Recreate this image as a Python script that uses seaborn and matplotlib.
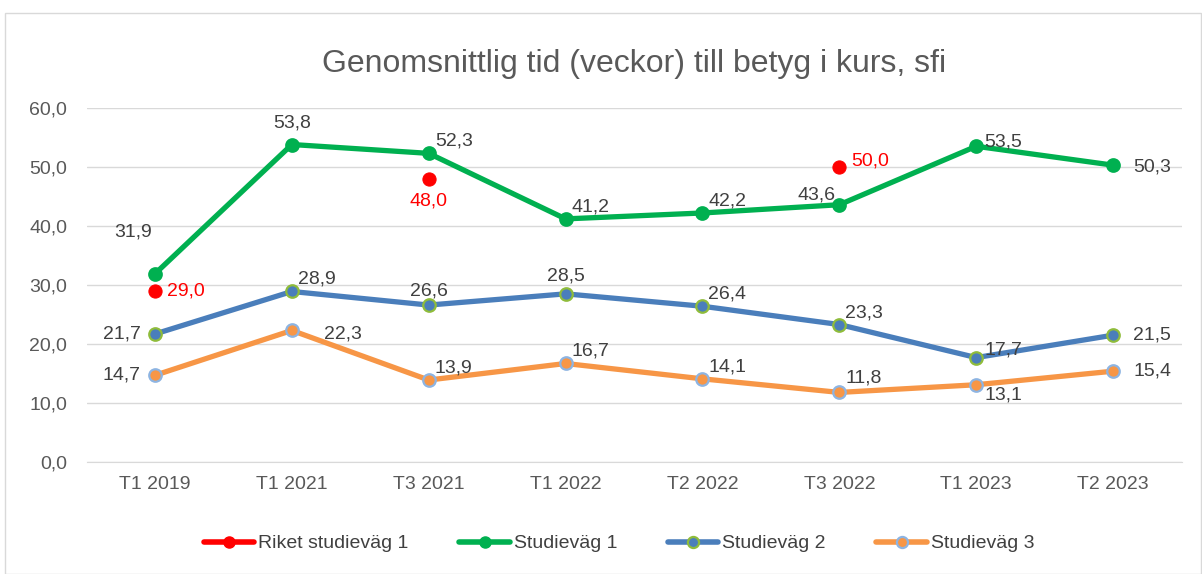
import numpy as np
import pandas as pd
import seaborn as sns
import matplotlib.pyplot as plt
from matplotlib.lines import Line2D
from matplotlib.patches import Rectangle

periods = ["T1 2019", "T1 2021", "T3 2021", "T1 2022", "T2 2022", "T3 2022", "T1 2023", "T2 2023"]
riket_sv1 = [29.0, np.nan, 48.0, np.nan, np.nan, 50.0, np.nan, np.nan]
sv1 = [31.9, 53.8, 52.3, 41.2, 42.2, 43.6, 53.5, 50.3]
sv2 = [21.7, 28.9, 26.6, 28.5, 26.4, 23.3, 17.7, 21.5]
sv3 = [14.7, 22.3, 13.9, 16.7, 14.1, 11.8, 13.1, 15.4]

# label offsets in pixels (dx, dy), styling only
off_red = [(12, 0, "left"), None, (0, -22, "center"), None, None, (12, 6, "left"), None, None]
off_sv1 = [(-22, 42, "center"), (0, 22, "center"), (6, 12, "left"), (6, 12, "left"),
           (6, 12, "left"), (-4, 10, "right"), (8, 4, "left"), (20, -2, "left")]
off_sv2 = [(-14, 0, "right"), (6, 12, "left"), (0, 14, "center"), (0, 18, "center"),
           (6, 12, "left"), (6, 12, "left"), (8, 8, "left"), (20, 0, "left")]
off_sv3 = [(-14, 0, "right"), (32, -4, "left"), (6, 12, "left"), (6, 12, "left"),
           (6, 12, "left"), (6, 14, "left"), (8, -10, "left"), (20, 0, "left")]

sns.set_style("white")
plt.rcParams["font.family"] = ["Liberation Sans", "DejaVu Sans"]

fig = plt.figure(figsize=(12.02, 5.74), dpi=100)
ax = fig.add_axes([0.072, 0.195, 0.911, 0.617])

fig.patches.append(Rectangle((0.004, 0.0), 0.995, 0.978, transform=fig.transFigure,
                             fill=False, edgecolor="#d9d9d9", linewidth=1.0))

df = pd.DataFrame({"Period": periods, "Riket studieväg 1": riket_sv1,
                   "Studieväg 1": sv1, "Studieväg 2": sv2, "Studieväg 3": sv3})

styles = [
    ("Studieväg 1", "#00b050", "#00b050"),
    ("Studieväg 2", "#4a7ebb", "#8fbc3b"),
    ("Studieväg 3", "#f79646", "#8db4e2"),
]
for name, col, edge in styles:
    sns.lineplot(data=df, x="Period", y=name, ax=ax, color=col, linewidth=3.8,
                 marker="o", markersize=9, markerfacecolor=col,
                 markeredgecolor=edge, markeredgewidth=1.6, sort=False, zorder=3)

sns.scatterplot(data=df, x="Period", y="Riket studieväg 1", ax=ax, color="#ff0000",
                s=90, edgecolor="#ff0000", zorder=4)

def add_labels(vals, offs, color):
    for i, v in enumerate(vals):
        if offs[i] is None or np.isnan(v):
            continue
        dx, dy, ha = offs[i]
        ax.annotate(f"{v:.1f}".replace(".", ","), (i, v), xytext=(dx * 0.72, dy * 0.72),
                    textcoords="offset points", ha=ha, va="center",
                    fontsize=14, color=color, zorder=5)

add_labels(sv1, off_sv1, "#404040")
add_labels(sv2, off_sv2, "#404040")
add_labels(sv3, off_sv3, "#404040")
add_labels(riket_sv1, off_red, "#ff0000")

ax.set_xlim(-0.5, 7.5)
ax.set_ylim(0, 60)
ax.set_yticks(np.arange(0, 61, 10))
ax.set_yticklabels([f"{t:.1f}".replace(".", ",") for t in np.arange(0, 61, 10)])
ax.yaxis.grid(True, color="#d9d9d9", linewidth=1)
ax.set_axisbelow(True)
for s in ["top", "right", "left"]:
    ax.spines[s].set_visible(False)
ax.spines["bottom"].set_color("#d9d9d9")
ax.tick_params(axis="both", length=0, labelsize=14, colors="#595959", pad=10)
ax.tick_params(axis="y", pad=14)
ax.set_xlabel("")
ax.set_ylabel("")
ax.set_title("Genomsnittlig tid (veckor) till betyg i kurs, sfi", fontsize=23,
             color="#595959", pad=26)

handles = [
    Line2D([], [], color="#ff0000", lw=4, marker="o", ms=8, mfc="#ff0000", mec="#ff0000"),
    Line2D([], [], color="#00b050", lw=4, marker="o", ms=8, mfc="#00b050", mec="#00b050"),
    Line2D([], [], color="#4a7ebb", lw=4, marker="o", ms=8, mfc="#4a7ebb", mec="#8fbc3b", mew=1.6),
    Line2D([], [], color="#f79646", lw=4, marker="o", ms=8, mfc="#f79646", mec="#8db4e2", mew=1.6),
]
labels = ["Riket studieväg 1", "Studieväg 1", "Studieväg 2", "Studieväg 3"]
fig.legend(handles, labels, loc="center", bbox_to_anchor=(0.515, 0.053), ncol=4,
           frameon=False, fontsize=14, handlelength=2.6, handletextpad=0.2,
           columnspacing=2.6, labelcolor="#404040")

fig.savefig("out.png", dpi=100)
